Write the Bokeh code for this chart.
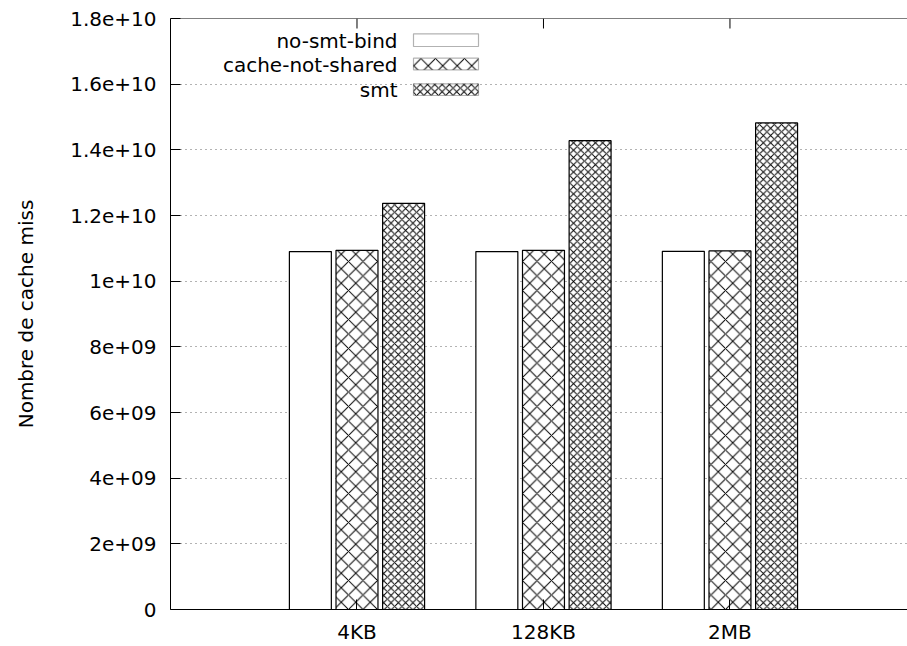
from bokeh.plotting import figure
from bokeh.models import (Range1d, FixedTicker, ColumnDataSource,
                          BoxAnnotation, Label, Span)
from bokeh.transform import dodge
from bokeh.embed import file_html
from bokeh.resources import INLINE

# ---- data ----
categories = ["4KB", "128KB", "2MB"]
cat_index = [0, 1, 2]
series_names = ["no-smt-bind", "cache-not-shared", "smt"]
no_smt_bind = [1.090e10, 1.090e10, 1.091e10]
cache_not_shared = [1.094e10, 1.094e10, 1.092e10]
smt = [1.237e10, 1.428e10, 1.482e10]
y_ticks = [0, 2e9, 4e9, 6e9, 8e9, 1e10, 1.2e10, 1.4e10, 1.6e10, 1.8e10]
y_tick_labels = ["0", "2e+09", "4e+09", "6e+09", "8e+09", "1e+10",
                 "1.2e+10", "1.4e+10", "1.6e+10", "1.8e+10"]
y_max = 1.8e10

FONT = "DejaVu Sans"
FS = "20px"

src = ColumnDataSource(dict(x=cat_index, a=no_smt_bind, b=cache_not_shared, c=smt))

p = figure(width=907, height=646, output_backend="svg", toolbar_location=None,
           x_range=Range1d(-1, 2.952), y_range=Range1d(0, y_max),
           min_border_left=170, min_border_right=0, min_border_top=18,
           min_border_bottom=37)
p.outline_line_color = None
p.background_fill_color = "white"
p.border_fill_color = "white"

# grid
p.xgrid.visible = False
p.ygrid.ticker = FixedTicker(ticks=y_ticks[1:-1])
p.ygrid.grid_line_color = "#666666"
p.ygrid.grid_line_dash = "1 4"
p.ygrid.grid_line_width = 1

# bars
specs = [("a", -0.25, None, 12), ("b", 0.0, "x", 14.5), ("c", 0.25, "x", 7.3)]
for col, off, hatch, sc in specs:
    kw = dict(hatch_pattern=hatch, hatch_color="black", hatch_weight=1,
              hatch_scale=sc) if hatch else {}
    p.vbar(x=dodge("x", off, range=p.x_range), top=col, width=0.225,
           source=src, fill_color="white", line_color="black", line_width=1.2,
           **kw)

# top border with mirrored x ticks (gnuplot style)
p.add_layout(Span(location=y_max, dimension="width", line_color="black",
                  line_width=1))
tick_len = y_max * 10 / 591
p.segment(x0=cat_index, x1=cat_index, y0=[y_max] * 3,
          y1=[y_max - tick_len] * 3, line_color="black", line_width=1)

# axes
xa = p.xaxis[0]
xa.ticker = FixedTicker(ticks=cat_index)
xa.major_label_overrides = {i: c for i, c in zip(cat_index, categories)}
xa.major_tick_in = 10
xa.major_tick_out = 0
xa.minor_tick_line_color = None
xa.major_label_standoff = 10
xa.major_label_text_font = FONT
xa.major_label_text_font_size = FS
xa.major_label_text_color = "black"
xa.axis_line_color = "black"

ya = p.yaxis[0]
ya.ticker = FixedTicker(ticks=y_ticks)
ya.major_label_overrides = {t: l for t, l in zip(y_ticks, y_tick_labels)}
ya.major_tick_in = 10
ya.major_tick_out = 0
ya.minor_tick_line_color = None
ya.major_label_standoff = 14
ya.major_label_text_font = FONT
ya.major_label_text_font_size = FS
ya.major_label_text_color = "black"
ya.axis_label = "Nombre de cache miss"
ya.axis_label_text_font = FONT
ya.axis_label_text_font_size = FS
ya.axis_label_text_font_style = "normal"
ya.axis_label_text_color = "black"
ya.axis_label_standoff = 29
ya.axis_line_color = "black"

# legend (label left of key, as gnuplot)
rows = [(569.0, 575.7, 563.0, None, 12), (545.0, 551.3, 539.7, "x", 14.5),
        (520.0, 525.7, 514.0, "x", 7.3)]
for name, (ty, bt, bb, hatch, sc) in zip(series_names, rows):
    kw = dict(hatch_pattern=hatch, hatch_color="black", hatch_weight=1,
              hatch_scale=sc) if hatch else {}
    p.add_layout(BoxAnnotation(left=243, right=308, top=bt, bottom=bb,
                               left_units="screen", right_units="screen",
                               top_units="screen", bottom_units="screen",
                               fill_color="white", fill_alpha=1,
                               line_color="black", line_width=1.2, **kw))
    p.add_layout(Label(x=227, y=ty, x_units="screen", y_units="screen",
                       text=name, text_align="right", text_baseline="middle",
                       text_font=FONT, text_font_size=FS, text_color="black"))

open("out.html", "w").write(file_html(p, INLINE))
